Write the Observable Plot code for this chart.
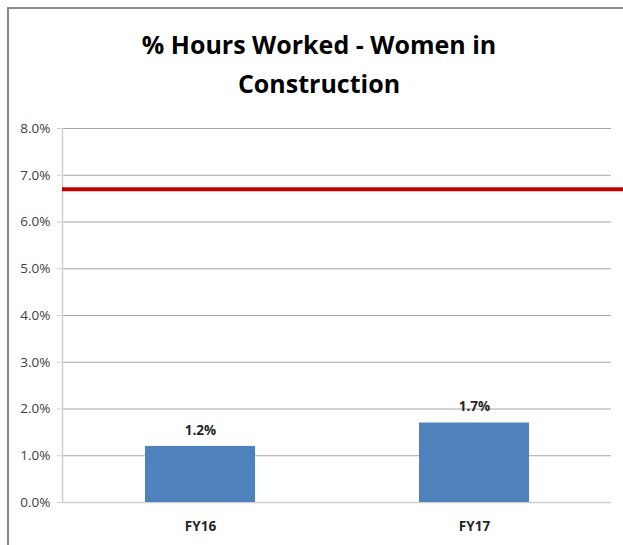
<!DOCTYPE html>
<html><head><meta charset="utf-8">
<script src="https://cdn.jsdelivr.net/npm/d3@7"></script>
<script src="https://cdn.jsdelivr.net/npm/@observablehq/plot@0.6"></script>
<style>
body{margin:0;background:#fff;}
#wrap{position:relative;width:623px;height:545px;overflow:hidden;background:#fff;}
#border{position:absolute;left:7px;top:7px;right:-5px;bottom:-5px;border-left:2px solid #8a8a8a;border-top:2px solid #8a8a8a;}
#title{position:absolute;left:0;width:638px;top:25px;text-align:center;font-family:"Open Sans",sans-serif;font-weight:bold;font-size:25px;line-height:39px;color:#000;z-index:2;}
#chart{position:absolute;left:0;top:0;}
</style></head>
<body>
<div id="wrap">
  <div id="border"></div>
  <div id="title">% Hours Worked - Women in<br>Construction</div>
  <div id="chart"></div>
</div>
<script>
const categories = ["FY16", "FY17"];
const values = [1.2, 1.7];
const targetValue = 6.7;
const yTicks = [0, 1, 2, 3, 4, 5, 6, 7, 8];
const titleLines = ["% Hours Worked - Women in", "Construction"];

const data = categories.map((c, i) => ({cat: c, v: values[i]}));

const chart = Plot.plot({
  width: 623,
  height: 545,
  marginTop: 128,
  marginBottom: 43,
  marginLeft: 62,
  marginRight: 12,
  style: {fontFamily: "'Open Sans', sans-serif", background: "transparent"},
  x: {domain: categories, paddingInner: 0.6, paddingOuter: 0.3, label: null},
  y: {domain: [0, 8], label: null},
  marks: [
    Plot.gridY(yTicks.filter(d => d > 0), {stroke: "#a6a6a6", strokeOpacity: 1, strokeWidth: 1}),
    Plot.ruleY([0], {stroke: "#d0d0d0", strokeWidth: 1.5}),
    Plot.frame({anchor: "left", stroke: "#d0d0d0", strokeWidth: 1.5}),
    Plot.barY(data, {x: "cat", y: "v", fill: "#4f81bd"}),
    Plot.ruleY([targetValue], {stroke: "#c00000", strokeWidth: 4, insetRight: -14}),
    Plot.text(data, {x: "cat", y: "v", text: d => d.v.toFixed(1) + "%", dy: -16, fontWeight: "bold", fontSize: 13.5, fill: "#262626"}),
    Plot.axisY({ticks: yTicks, tickFormat: d => d.toFixed(1) + "%", tickSize: 5, tickPadding: 7, stroke: "#d0d0d0", fontSize: 13.5, fill: "#404040"}),
    Plot.axisX({tickSize: 0, tickPadding: 19, fontSize: 13.5, fontWeight: "bold", fill: "#262626"})
  ]
});
document.getElementById("chart").appendChild(chart);
</script>
</body></html>
